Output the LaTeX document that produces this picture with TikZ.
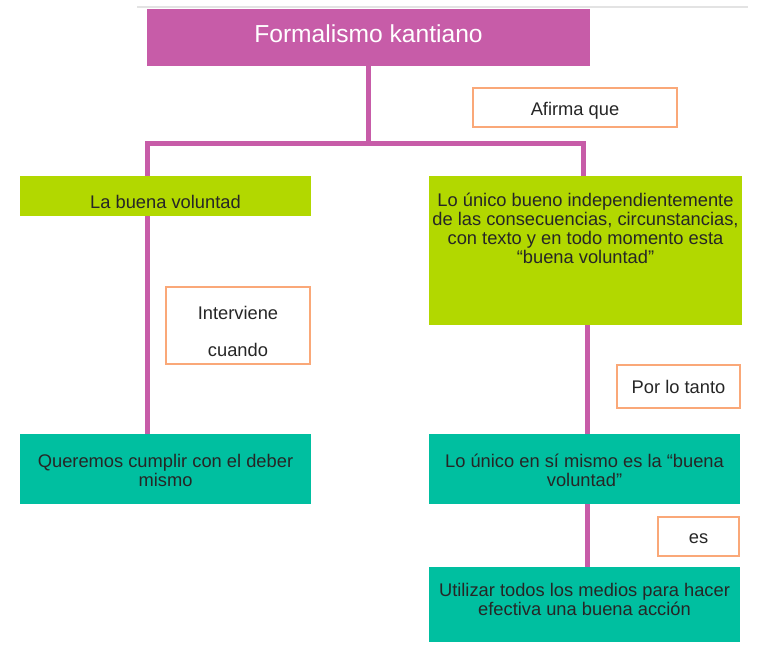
\documentclass[tikz,border=0pt]{standalone}
\usepackage{fontspec}
\setmainfont{Liberation Sans}
\usetikzlibrary{positioning}
\definecolor{kantpink}{HTML}{C75CA8}
\definecolor{kantgreen}{HTML}{B2D800}
\definecolor{kantteal}{HTML}{00BFA0}
\definecolor{kantorange}{HTML}{FAA878}
\definecolor{kanttext}{HTML}{262626}
\definecolor{kantrule}{HTML}{E3E3E3}
% box of fixed size with its text set from the top
\newcommand{\toptext}[4]{\parbox[c][#2][t]{#1}{\centering\rule{0pt}{#3}#4}}
% strut that pushes a line of text down
\newcommand{\kstrut}[1]{\rule{0pt}{#1}}

\begin{document}
\begin{tikzpicture}[x=1pt, y=-1pt,
    concept/.style={rectangle, inner sep=0pt, align=center, text=kanttext,
    font=\fontsize{18.3}{19}\selectfont},
    headbox/.style={concept, fill=kantpink, text=white, font=\fontsize{24.6}{28}\selectfont},
    greenbox/.style={concept, fill=kantgreen},
    tealbox/.style={concept, fill=kantteal},
    tagbox/.style={concept, draw=kantorange, line width=1.2pt, fill=white},
    branch/.style={draw=kantpink, line width=5pt, line join=miter}]
    \useasboundingbox (0,0) rectangle (768,648);
    \draw[kantrule, line width=1.5pt] (137,7) -- (748,7);

    \node (title) [headbox, minimum width=443pt, minimum height=57pt] at (368.5,37.5) {\rule[-8pt]{0pt}{8pt}Formalismo kantiano};

    \node (afirma) [tagbox, minimum width=204pt, minimum height=39pt] at (575,107.5) {\kstrut{19pt}Afirma que};

    \node (buena) [greenbox, minimum width=291pt, minimum height=40pt] at (165.5,196) {\kstrut{25pt}La buena voluntad};

    \node (unico) [greenbox] at (585.5,250.5) {\toptext{313pt}{149pt}{30pt}{Lo único bueno independientemente\\de las consecuencias, circunstancias,\\con texto y en todo momento esta\\“buena voluntad”}};

    \node (interviene) [tagbox, minimum width=144pt, minimum height=77pt] at (238,325.5) {\kstrut{25pt}Interviene\\[18pt]cuando};

    \node (cumplir) [tealbox, minimum width=291pt, minimum height=70pt] at (165.5,469) {\kstrut{17pt}Queremos cumplir con el deber\\mismo};

    \node (portanto) [tagbox, minimum width=123pt, minimum height=43pt] at (678.5,386.5) {Por lo tanto};

    \node (mismo) [tealbox, minimum width=311pt, minimum height=70pt] at (584.5,469) {\kstrut{17pt}Lo único en sí mismo es la “buena\\voluntad”};

    \node (es) [tagbox, minimum width=81pt, minimum height=39pt] at (698.5,536.5) {\kstrut{14pt}es};

    \node (medios) [tealbox] at (584.5,604.5) {\toptext{311pt}{75pt}{29pt}{Utilizar todos los medios para hacer\\efectiva una buena acción}};

    \coordinate (forkleft) at (147,143);
    \coordinate (forkright) at (583,143);
    \coordinate (trunk) at (587,400);

    \draw[branch] (title.south) -- (title.south |- forkleft);
    \draw[branch] (forkleft |- buena.north) -- (forkleft) -- (forkright) -- (forkright |- unico.north);
    \draw[branch] (forkleft |- buena.south) -- (forkleft |- cumplir.north);
    \draw[branch] (trunk |- unico.south) -- (trunk |- mismo.north);
    \draw[branch] (trunk |- mismo.south) -- (trunk |- medios.north);
\end{tikzpicture}
\end{document}
